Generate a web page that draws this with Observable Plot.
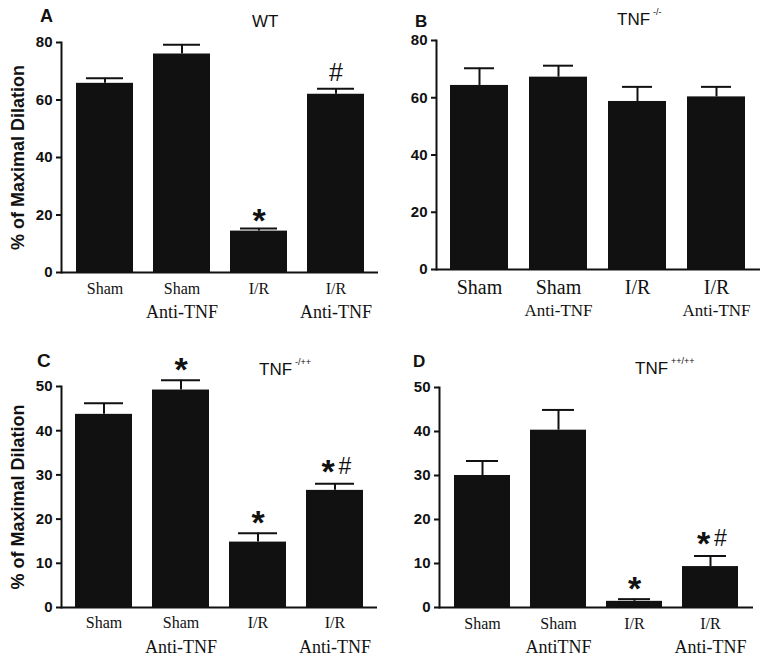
<!DOCTYPE html>
<html><head><meta charset="utf-8">
<script src="https://cdn.jsdelivr.net/npm/d3@7"></script>
<script src="https://cdn.jsdelivr.net/npm/@observablehq/plot@0.6"></script>
<style>
body{margin:0;background:#fff}
#root{position:relative;width:770px;height:660px;background:#fff;font-family:"Liberation Sans",Arial,sans-serif;color:#111}
.lbl{position:absolute;line-height:1;white-space:nowrap;color:#111}
.lbl sup{font-size:9px;position:relative;top:-3px;margin-left:3px;vertical-align:top}
.panel{position:absolute}
</style></head><body><div id="root"></div>
<script>
// ---- data ----
const categories = ["Sham", "Sham Anti-TNF", "I/R", "I/R Anti-TNF"];
const labelLine1 = ["Sham", "Sham", "I/R", "I/R"];
const labelLine2 = ["", "Anti-TNF", "", "Anti-TNF"];
const labelLine2D = ["", "AntiTNF", "", "Anti-TNF"];

const valuesA = [65.8, 76.0, 14.4, 62.0];
const errorsA = [1.8, 3.2, 0.9, 1.9];
const annA = ["", "", "*", "#"];

const valuesB = [64.3, 67.2, 58.7, 60.3];
const errorsB = [6.0, 4.0, 5.1, 3.5];
const annB = ["", "", "", ""];

const valuesC = [43.7, 49.2, 14.8, 26.5];
const errorsC = [2.5, 2.2, 2.0, 1.5];
const annC = ["", "*", "*", "*#"];

const valuesD = [30.0, 40.3, 1.4, 9.3];
const errorsD = [3.3, 4.6, 0.5, 2.4];
const annD = ["", "", "*", "*#"];

const ticks80 = [0, 20, 40, 60, 80];
const ticks50 = [0, 10, 20, 30, 40, 50];
const yLabel = "% of Maximal Dilation";

const INK = "#111";
const SANS = "Liberation Sans, Arial, sans-serif";
const SERIF = "Liberation Serif, Times New Roman, serif";

function panel(cfg) {
  const rows = categories.map((c, i) => ({
    cat: c, value: cfg.values[i], top: cfg.values[i] + cfg.errors[i],
    ann: cfg.ann[i], l1: labelLine1[i], l2: cfg.line2[i]
  }));
  const marks = [
    Plot.barY(rows, {x: "cat", y: "value", fill: INK}),
    Plot.ruleX(rows, {x: "cat", y1: "value", y2: "top", stroke: INK, strokeWidth: 2}),
    Plot.tickY(rows, {x: "cat", y: "top", stroke: INK, strokeWidth: 2, inset: cfg.capInset}),
    Plot.ruleY([0], {stroke: INK, strokeWidth: 2}),
    Plot.frame({anchor: "left", stroke: INK, strokeWidth: 2}),
    Plot.axisY({ticks: cfg.ticks, tickSize: 5, tickPadding: 4, fontSize: 15, fontWeight: "bold",
      fontFamily: SANS, stroke: INK, strokeWidth: 2, fill: INK, label: null}),
    Plot.text(rows, {x: "cat", text: "l1", frameAnchor: "bottom", lineAnchor: "bottom", dy: cfg.l1dy,
      fontSize: cfg.l1size, fontFamily: SERIF, fill: INK}),
    Plot.text(rows.filter(d => d.l2), {x: "cat", text: "l2", frameAnchor: "bottom", lineAnchor: "bottom", dy: cfg.l2dy,
      fontSize: cfg.l2size, fontFamily: SERIF, fill: INK}),
    // significance markers
    Plot.text(rows.filter(d => d.ann === "*"), {x: "cat", y: "top", text: () => "*", lineAnchor: "bottom",
      dy: cfg.starDy, fontSize: 34, fontWeight: "bold", fontFamily: SANS, fill: INK}),
    Plot.text(rows.filter(d => d.ann === "#"), {x: "cat", y: "top", text: () => "#", lineAnchor: "bottom",
      dy: -8, fontSize: 25, fontFamily: SANS, fill: INK}),
    Plot.text(rows.filter(d => d.ann === "*#"), {x: "cat", y: "top", text: () => "*", lineAnchor: "bottom",
      dy: -1, dx: -7, fontSize: 34, fontWeight: "bold", fontFamily: SANS, fill: INK}),
    Plot.text(rows.filter(d => d.ann === "*#"), {x: "cat", y: "top", text: () => "#", lineAnchor: "bottom",
      dy: -10, dx: 10, fontSize: 23, fontFamily: SANS, fill: INK})
  ];
  if (cfg.yLabel) {
    marks.push(Plot.text([cfg.yLabel], {frameAnchor: "left", textAnchor: "middle", rotate: -90, dx: -43, fontSize: 18,
      fontWeight: "bold", fontFamily: SANS, fill: INK}));
  }
  const svg = Plot.plot({
    width: 385, height: 330,
    marginLeft: cfg.m[0], marginRight: cfg.m[1], marginTop: cfg.m[2], marginBottom: cfg.m[3],
    x: {domain: categories, paddingInner: 0.26, paddingOuter: 0.17, axis: null},
    y: {domain: [0, cfg.ymax], axis: null},
    style: {background: "transparent", overflow: "visible"},
    marks
  });
  svg.classList.add("panel");
  svg.style.left = cfg.left + "px";
  svg.style.top = cfg.top + "px";
  return svg;
}

const root = document.getElementById("root");
root.appendChild(panel({values: valuesA, errors: errorsA, ann: annA, line2: labelLine2, ticks: ticks80, ymax: 80,
  yLabel, left: 0, top: 0, m: [61, 7, 42, 58], capInset: 10, l1dy: 21, l1size: 16, l2dy: 45, l2size: 18, starDy: 3}));
root.appendChild(panel({values: valuesB, errors: errorsB, ann: annB, line2: labelLine2, ticks: ticks80, ymax: 80,
  yLabel: null, left: 385, top: 0, m: [51, 10, 40, 61], capInset: 14, l1dy: 24, l1size: 20, l2dy: 46, l2size: 17, starDy: 1}));
root.appendChild(panel({values: valuesC, errors: errorsC, ann: annC, line2: labelLine2, ticks: ticks50, ymax: 50,
  yLabel, left: 0, top: 330, m: [61, 8, 56, 53], capInset: 9, l1dy: 20, l1size: 16, l2dy: 45, l2size: 18, starDy: 1}));
root.appendChild(panel({values: valuesD, errors: errorsD, ann: annD, line2: labelLine2D, ticks: ticks50, ymax: 50,
  yLabel: null, left: 385, top: 330, m: [54, 17, 57, 53], capInset: 12, l1dy: 21, l1size: 16, l2dy: 45, l2size: 18, starDy: 1}));

const titles = [
  {html: "A", x: 40, y: 7, size: 18, bold: true},
  {html: "WT", x: 252, y: 13, size: 17},
  {html: "B", x: 415, y: 13, size: 17, bold: true},
  {html: "TNF<sup>-/-</sup>", x: 617, y: 11, size: 17},
  {html: "C", x: 37, y: 351, size: 19, bold: true},
  {html: "TNF<sup>-/++</sup>", x: 259, y: 361, size: 17},
  {html: "D", x: 413, y: 353, size: 17, bold: true},
  {html: "TNF<sup>++/++</sup>", x: 635, y: 360, size: 17}
];
for (const t of titles) {
  const d = document.createElement("div");
  d.className = "lbl";
  d.innerHTML = t.html;
  d.style.left = t.x + "px";
  d.style.top = t.y + "px";
  d.style.fontSize = t.size + "px";
  d.style.fontWeight = t.bold ? "bold" : "normal";
  root.appendChild(d);
}
</script></body></html>
